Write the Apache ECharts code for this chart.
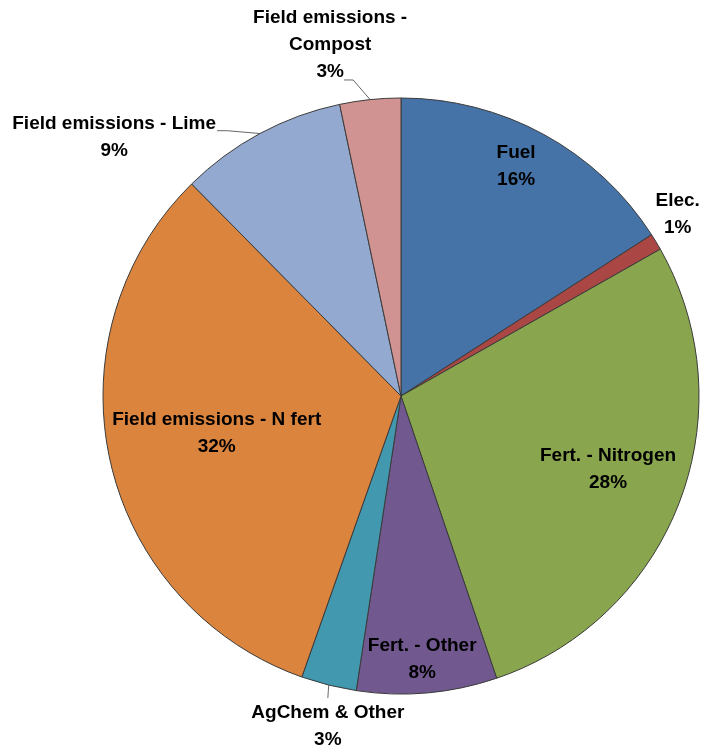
<!DOCTYPE html>
<html><head><meta charset="utf-8">
<script src="https://cdn.jsdelivr.net/npm/echarts@6/dist/echarts.min.js"></script>
<style>html,body{margin:0;padding:0;background:#fff}#c{width:701px;height:751px}</style>
</head><body><div id="c"></div>
<script>
// ---- data ----
const categories = ['Fuel', 'Elec.', 'Fert. - Nitrogen', 'Fert. - Other', 'AgChem & Other',
  'Field emissions - N fert', 'Field emissions - Lime', 'Field emissions -\nCompost'];
const shares = [15.9, 0.9, 28.0, 7.6, 3.0, 32.2, 9.1, 3.3];

// ---- style ----
const colors = ['#4572A7', '#AA4643', '#89A54E', '#71588F', '#4198AF', '#DB843D', '#93A9CF', '#D19392'];
const CX = 401, CY = 396, R = 298;
// label block centre, polar: [radius px, angle deg clockwise from top]
const labelAnchor = [[257, 26.6], [331, 56.7], [219.5, 109.4], [264, 175.4], [338, 192.5], [188, 258.6], [386, 312], [358.6, 348.6]];
// leader line attach offset from label centre [dx, dy, elbowDx]
const leaderAttach = [null, null, null, null, [0, -28, 0], null, [103, -7, 10], [14, 35.5, 9]];

const total = shares.reduce((a, b) => a + b, 0);
const midAngle = [];
let acc = 0;
shares.forEach(v => { midAngle.push((acc + v / 2) / total * 360); acc += v; });
const polar = (r, a) => [CX + r * Math.sin(a * Math.PI / 180), CY - r * Math.cos(a * Math.PI / 180)];

const chart = echarts.init(document.getElementById('c'));
chart.setOption({
  animation: false,
  series: [{
    type: 'pie',
    center: [CX, CY],
    radius: R,
    startAngle: 90,
    clockwise: true,
    percentPrecision: 0,
    avoidLabelOverlap: false,
    itemStyle: { borderColor: '#3a3a3a', borderWidth: 1 },
    label: {
      show: true,
      position: 'outside',
      formatter: '{b}\n{d}%',
      fontFamily: 'Liberation Sans',
      fontWeight: 'bold',
      fontSize: 19,
      lineHeight: 27,
      color: '#000',
      align: 'center'
    },
    labelLine: { show: true, length: 5, length2: 5, lineStyle: { color: '#666', width: 1 } },
    emphasis: { disabled: true },
    labelLayout: function (p) {
      const i = p.dataIndex;
      const pos = polar(labelAnchor[i][0], labelAnchor[i][1]);
      const res = { x: pos[0], y: pos[1], align: 'center', verticalAlign: 'middle' };
      const la = leaderAttach[i];
      if (la) {
        const edge = polar(R, midAngle[i]);
        const end = [pos[0] + la[0], pos[1] + la[1]];
        const elbow = la[2] ? [end[0] + la[2], end[1]] : [(edge[0] + end[0]) / 2, (edge[1] + end[1]) / 2];
        res.labelLinePoints = [edge, elbow, end];
      }
      return res;
    },
    data: categories.map((name, i) => ({
      name: name,
      value: shares[i],
      itemStyle: { color: colors[i] },
      labelLine: { show: !!leaderAttach[i] }
    }))
  }]
});
</script>
</body></html>
